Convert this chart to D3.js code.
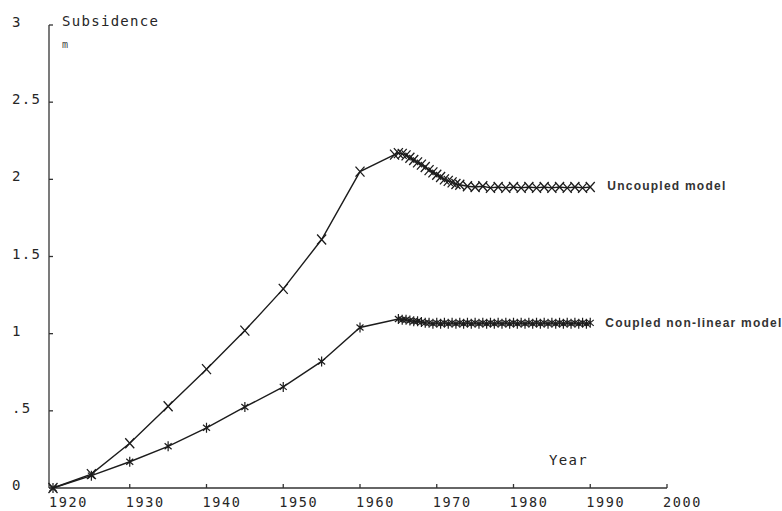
<!DOCTYPE html>
<html>
<head>
<meta charset="utf-8">
<script src="https://cdn.jsdelivr.net/npm/d3@7"></script>
<style>
  html, body { margin: 0; padding: 0; background: #fff; }
  svg { display: block; }
  .mono { font-family: "DejaVu Sans Mono", "Liberation Mono", monospace; font-size: 14px; letter-spacing: 1.3px; fill: #262626; }
  .xtick { font-size: 13.5px; letter-spacing: 1.6px; }
  .series-label { font-family: "Liberation Sans", Arial, sans-serif; font-weight: bold; font-size: 12px; fill: #333; }
</style>
</head>
<body>
<svg id="chart" width="782" height="511"></svg>
<script>
// Subsidence (m) against year for the two model runs
const yearTicks = [1920, 1930, 1940, 1950, 1960, 1970, 1980, 1990, 2000];
const yearTickLabels = ["1920", "1930", "1940", "1950", "1960", "1970", "1980", "1990", "2000"];
const subsidenceTicks = [0, 0.5, 1, 1.5, 2, 2.5, 3];
const subsidenceTickLabels = ["0", ".5", "1", "1.5", "2", "2.5", "3"];

const uncoupledYears = [
  1920, 1925, 1930, 1935, 1940, 1945, 1950, 1955, 1960,
  1964.5, 1965, 1965.5, 1966, 1966.5, 1967, 1967.5, 1968, 1968.5, 1969, 1969.5,
  1970, 1970.5, 1971, 1971.5, 1972, 1972.5, 1973,
  1974, 1975, 1976, 1977, 1978, 1979, 1980, 1981, 1982, 1983, 1984, 1985, 1986, 1987, 1988, 1989, 1990
];
const uncoupledValues = [
  0, 0.09, 0.29, 0.53, 0.77, 1.02, 1.29, 1.61, 2.05,
  2.16, 2.17, 2.165, 2.155, 2.14, 2.125, 2.11, 2.095, 2.08, 2.06, 2.045,
  2.03, 2.015, 2.0, 1.99, 1.98, 1.97, 1.965,
  1.955, 1.95, 1.955, 1.945, 1.95, 1.945, 1.95, 1.945, 1.95, 1.945, 1.95, 1.945, 1.95, 1.945, 1.95, 1.945, 1.95
];

const coupledYears = [
  1920, 1925, 1930, 1935, 1940, 1945, 1950, 1955, 1960,
  1965, 1965.5, 1966, 1966.5, 1967, 1967.5, 1968, 1968.5, 1969, 1969.5,
  1970, 1970.5, 1971, 1971.5, 1972, 1972.5, 1973, 1973.5, 1974, 1974.5,
  1975, 1975.5, 1976, 1976.5, 1977, 1977.5, 1978, 1978.5, 1979, 1979.5,
  1980, 1980.5, 1981, 1981.5, 1982, 1982.5, 1983, 1983.5, 1984, 1984.5,
  1985, 1985.5, 1986, 1986.5, 1987, 1987.5, 1988, 1988.5, 1989, 1989.5, 1990
];
const coupledValues = [
  0, 0.08, 0.17, 0.27, 0.39, 0.525, 0.655, 0.82, 1.04,
  1.095, 1.09, 1.09, 1.085, 1.08, 1.08, 1.075, 1.07, 1.07, 1.065,
  1.07, 1.065, 1.07, 1.065, 1.07, 1.065, 1.07, 1.065, 1.07, 1.065,
  1.07, 1.065, 1.07, 1.065, 1.07, 1.065, 1.07, 1.065, 1.07, 1.065,
  1.07, 1.065, 1.07, 1.065, 1.07, 1.065, 1.07, 1.065, 1.07, 1.065,
  1.07, 1.065, 1.07, 1.065, 1.07, 1.065, 1.07, 1.065, 1.07, 1.065, 1.07
];

const seriesNames = ["Uncoupled model", "Coupled non-linear model"];

const svg = d3.select("#chart");
const ink = "#1c1c1c";

const x = d3.scaleLinear().domain([1920, 2000]).range([53, 667]);
const y = d3.scaleLinear().domain([0, 3]).range([488, 25]);
const axisX = 49;

// Axes lines
const axes = svg.append("g").attr("stroke", "#333").attr("stroke-width", 1.3).attr("fill", "none");
axes.append("line").attr("x1", axisX).attr("x2", axisX).attr("y1", y(3)).attr("y2", y(0));
axes.append("line").attr("x1", axisX).attr("x2", x(2000)).attr("y1", y(0)).attr("y2", y(0));

// Y ticks (pointing into the plot) and labels
subsidenceTicks.forEach((v, i) => {
  axes.append("line").attr("x1", axisX).attr("x2", axisX + 4).attr("y1", y(v)).attr("y2", y(v));
  svg.append("text").attr("class", "mono").attr("x", 12).attr("y", y(v) + 2).text(subsidenceTickLabels[i]);
});

// X ticks (pointing up) and labels
yearTicks.forEach((t, i) => {
  if (t > 1920) {
    axes.append("line").attr("x1", x(t)).attr("x2", x(t)).attr("y1", y(0)).attr("y2", y(0) - 4);
  }
  svg.append("text").attr("class", "mono xtick").attr("x", x(t) - 4).attr("y", 506.5).text(yearTickLabels[i]);
});

// Axis titles
svg.append("text").attr("class", "mono").attr("x", 62).attr("y", 26).text("Subsidence");
svg.append("text").attr("class", "mono").attr("x", 62).attr("y", 48)
  .style("font-size", "10px").style("letter-spacing", "0px").style("fill", "#444").text("m");
svg.append("text").attr("class", "mono").attr("x", 549).attr("y", 465).text("Year");

// Series
const line = d3.line().x(d => x(d[0])).y(d => y(d[1]));
const upper = d3.zip(uncoupledYears, uncoupledValues);
const lower = d3.zip(coupledYears, coupledValues);

svg.append("path").datum(upper).attr("d", line)
  .attr("fill", "none").attr("stroke", ink).attr("stroke-width", 1.4);
svg.append("path").datum(lower).attr("d", line)
  .attr("fill", "none").attr("stroke", ink).attr("stroke-width", 1.4);

// Uncoupled markers: diagonal crosses
const crossPath = "M-4.5,-5L4.5,5M-4.5,5L4.5,-5";
svg.append("g").selectAll("path").data(upper).join("path")
  .attr("transform", d => `translate(${x(d[0])},${y(d[1])})`)
  .attr("d", crossPath)
  .attr("fill", "none").attr("stroke", ink).attr("stroke-width", 1.3);

// Coupled markers: vertical bar with a narrow cross
const starPath = "M0,-5L0,5M-3.5,-3L3.5,3M-3.5,3L3.5,-3";
svg.append("g").selectAll("path").data(lower).join("path")
  .attr("transform", d => `translate(${x(d[0])},${y(d[1])})`)
  .attr("d", starPath)
  .attr("fill", "none").attr("stroke", ink).attr("stroke-width", 1.2);

// Series labels at the end of each curve
const lastUpper = upper[upper.length - 1];
const lastLower = lower[lower.length - 1];
svg.append("text").attr("class", "series-label")
  .attr("x", x(lastUpper[0]) + 17).attr("y", y(lastUpper[1]) + 3)
  .attr("textLength", 118).attr("lengthAdjust", "spacing")
  .text(seriesNames[0]);
svg.append("text").attr("class", "series-label")
  .attr("x", x(lastLower[0]) + 15).attr("y", y(lastLower[1]) + 4)
  .attr("textLength", 176).attr("lengthAdjust", "spacing")
  .text(seriesNames[1]);
</script>
</body>
</html>
